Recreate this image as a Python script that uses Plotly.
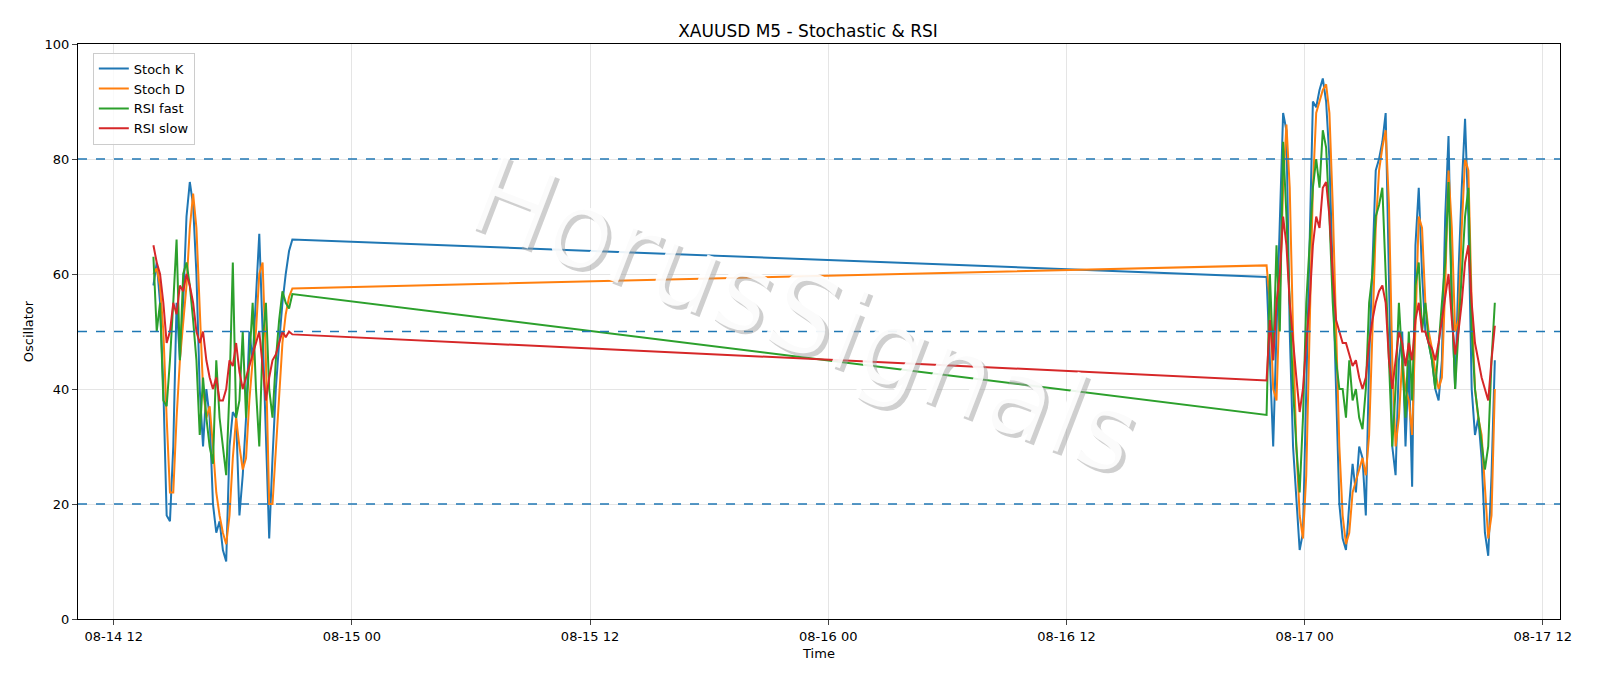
import pandas as pd
import plotly.graph_objects as go

# two sessions of M5 data (sampled every 10 min)
times_1 = pd.date_range("2025-08-14 14:00", periods=43, freq="10min")
times_2 = pd.date_range("2025-08-16 22:05", periods=70, freq="10min")

stoch_k_1 = [58, 62, 55, 40, 18, 17, 30, 55, 45, 55, 70, 76, 72, 60, 40, 30, 40, 35, 20, 15, 17, 12,
             10, 30, 36, 35, 18, 25, 35, 50, 45, 55, 67, 50, 30, 14, 28, 40, 48, 55, 60, 64, 66]
stoch_d_1 = [60, 61, 58, 50, 35, 22, 22, 35, 45, 52, 58, 68, 74, 68, 55, 40, 35, 37, 30, 22, 18, 15,
             13, 18, 28, 35, 30, 26, 28, 38, 45, 50, 60, 62, 45, 20, 20, 30, 40, 48, 53, 56, 57.5]
rsi_fast_1 = [63, 50, 55, 38, 37, 45, 55, 66, 45, 60, 62, 58, 52, 45, 32, 42, 35, 30, 27, 45, 35, 30,
              25, 40, 62, 35, 38, 50, 35, 45, 55, 40, 30, 48, 55, 40, 35, 45, 52, 57, 55, 54, 56.5]
rsi_slow_1 = [65, 62, 60, 55, 48, 50, 55, 53, 58, 57, 60, 58, 55, 50, 48, 50, 45, 42, 40, 42, 38, 38,
              40, 45, 44, 48, 43, 40, 42, 44, 46, 48, 50, 44, 38, 42, 45, 46, 48, 50, 49, 50, 49.5]

stoch_k_2 = [59.5, 45, 30, 50, 70, 88, 85, 50, 30, 20, 12, 15, 40, 70, 90, 89, 92, 94, 90, 80,
             60, 40, 20, 14, 12, 20, 27, 22, 30, 28, 18, 45, 62, 78, 80, 83, 88, 60, 30, 25,
             45, 50, 30, 45, 23, 65, 75, 60, 50, 48, 45, 40, 38, 45, 70, 84, 55, 40, 60, 75,
             87, 70, 40, 32, 35, 28, 15, 11, 25, 45]
stoch_d_2 = [61.5, 55, 40, 38, 55, 75, 86, 75, 50, 30, 18, 14, 25, 50, 75, 88, 90, 92, 93, 88,
             72, 50, 30, 18, 13, 15, 22, 24, 26, 28, 25, 32, 50, 68, 78, 82, 85, 72, 45, 30,
             35, 45, 40, 38, 32, 50, 70, 68, 55, 50, 47, 43, 40, 42, 58, 78, 68, 50, 52, 68,
             80, 78, 55, 40, 35, 32, 22, 14, 18, 40]
rsi_fast_2 = [35.5, 60, 45, 65, 50, 83, 70, 55, 40, 30, 22, 35, 55, 65, 75, 80, 75, 85, 82, 70,
              55, 45, 40, 40, 35, 45, 38, 40, 35, 33, 40, 55, 60, 70, 72, 75, 60, 45, 30, 40,
              55, 45, 35, 50, 38, 58, 62, 50, 55, 48, 45, 40, 48, 55, 62, 76, 55, 40, 50, 60,
              70, 75, 50, 40, 35, 30, 26, 30, 45, 55]
rsi_slow_2 = [41.5, 52, 45, 55, 60, 70, 65, 55, 48, 42, 36, 40, 48, 55, 65, 70, 68, 75, 76, 70,
              60, 52, 50, 48, 48, 46, 44, 45, 42, 40, 42, 48, 52, 55, 57, 58, 55, 45, 40, 45,
              50, 48, 44, 48, 45, 52, 55, 50, 50, 48, 47, 45, 48, 52, 56, 60, 52, 46, 50, 55,
              62, 65, 55, 48, 45, 42, 40, 38, 45, 51]

levels = [20, 50, 80]

times = list(times_1) + list(times_2)
series = [
    ("Stoch K", stoch_k_1 + stoch_k_2, "#1f77b4"),
    ("Stoch D", stoch_d_1 + stoch_d_2, "#ff7f0e"),
    ("RSI fast", rsi_fast_1 + rsi_fast_2, "#2ca02c"),
    ("RSI slow", rsi_slow_1 + rsi_slow_2, "#d62728"),
]

fig = go.Figure()
for name, vals, color in series:
    fig.add_trace(go.Scatter(x=times, y=vals, mode="lines", name=name,
                             line=dict(color=color, width=2)))

for lv in levels:
    fig.add_hline(y=lv, line=dict(color="#1f77b4", width=1.3, dash="dash"))

# watermark with shadow
for dx, dy, col in [(4, -4, "rgba(160,160,160,0.5)"), (0, 0, "rgba(255,255,255,0.9)")]:
    fig.add_annotation(text="HorusSignals", xref="paper", yref="paper", x=0.49, y=0.53,
                       xshift=dx, yshift=dy, showarrow=False, textangle=21,
                       font=dict(family="DejaVu Sans", size=108, color=col))

tickvals = pd.date_range("2025-08-14 12:00", periods=7, freq="12h")
fig.update_layout(
    width=1600, height=686,
    paper_bgcolor="white", plot_bgcolor="white",
    margin=dict(l=70, r=48, t=36, b=75),
    title=dict(text="XAUUSD M5 - Stochastic & RSI", x=0.5, y=0.975,
               font=dict(size=17, color="black")),
    font=dict(family="DejaVu Sans", size=13, color="black"),
    legend=dict(x=0.01, y=0.985, xanchor="left", yanchor="top",
                bordercolor="#cccccc", borderwidth=1, bgcolor="rgba(255,255,255,0.8)",
                font=dict(size=13)),
    xaxis=dict(title=dict(text="Time", standoff=6, font=dict(size=13)),
               range=["2025-08-14 10:12", "2025-08-17 12:52"],
               tickvals=list(tickvals), ticktext=[t.strftime("%m-%d %H") for t in tickvals],
               showgrid=True, gridcolor="#e5e5e5", showline=True, linecolor="black",
               mirror=True, ticks="outside", zeroline=False),
    yaxis=dict(title=dict(text="Oscillator", standoff=8, font=dict(size=13)), range=[0, 100], dtick=20,
               showgrid=True, gridcolor="#e5e5e5", showline=True, linecolor="black",
               mirror=True, ticks="outside", zeroline=False),
)

fig.write_html("out.html")
